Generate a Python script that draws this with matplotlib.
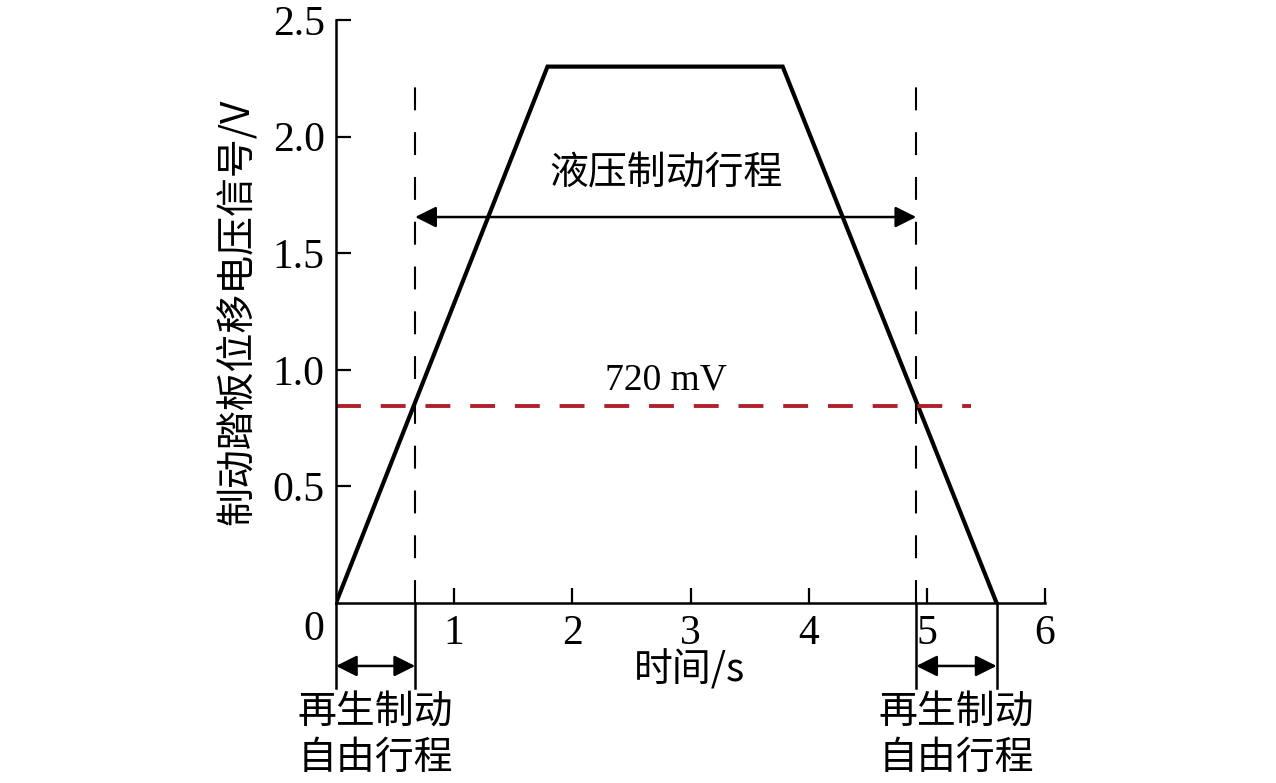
import matplotlib
matplotlib.use("Agg")
import matplotlib.pyplot as plt

plt.rcParams['font.family'] = ['Liberation Serif', 'Noto Sans CJK SC']

# pedal displacement signal (trapezoid)
t = [0, 1.79, 3.78, 5.59]
volt = [0, 2.3, 2.3, 0]

# boundaries of the free travel (regen only) zones
regen_start = [0, 4.91]
regen_end = [0.67, 5.59]
dash_top = 2.24
threshold = 0.845
threshold_end = 5.37

xticks = [1, 2, 3, 4, 5, 6]
yticks = [0.5, 1.0, 1.5, 2.0, 2.5]
ytick_labels = ['0.5', '1.0', '1.5', '2.0', '2.5']

fs = 30
fs_cjk = 28
cjk = ['Noto Sans CJK SC', 'Liberation Serif']

fig = plt.figure(figsize=(12.76, 7.83), dpi=100)
ax = fig.add_axes([0.2633, 0.2299, 0.5557, 0.7446])

ax.plot(t, volt, color='black', lw=3.0, solid_joinstyle='miter')

# vertical dashed markers
for xv in [regen_end[0], regen_start[1]]:
    ax.plot([xv, xv], [0, dash_top], color='black', lw=1.5, dashes=(11, 10.5))

# 720 mV threshold
ax.plot([0, threshold_end], [threshold, threshold], color='#b0202a', lw=2.8, dashes=(6.4, 5.1))
ax.text(2.79, threshold + 0.11, '720 mV', fontsize=27, ha='center', va='center')

# hydraulic braking stroke arrow
ax.annotate('', xy=(regen_start[1], 1.655), xytext=(regen_end[0], 1.655),
            arrowprops=dict(arrowstyle='<|-|>', color='black', lw=1.8,
                            mutation_scale=32, shrinkA=0, shrinkB=0))
ax.text(2.79, 1.84, '液压制动行程', fontsize=fs_cjk, family=cjk, ha='center', va='center')

# free travel arrows below the axis
for a, b in zip(regen_start, regen_end):
    for xv in (a, b):
        ax.plot([xv, xv], [0, -0.365], color='black', lw=1.8, clip_on=False)
    ax.annotate('', xy=(b, -0.27), xytext=(a, -0.27), annotation_clip=False,
                arrowprops=dict(arrowstyle='<|-|>', color='black', lw=1.8,
                                mutation_scale=32, shrinkA=0, shrinkB=0))
    ax.text((a + b) / 2, -0.47, '再生制动', fontsize=fs_cjk, family=cjk,
            ha='center', va='center', clip_on=False)
    ax.text((a + b) / 2, -0.665, '自由行程', fontsize=fs_cjk, family=cjk,
            ha='center', va='center', clip_on=False)

ax.set_xlim(0, 6)
ax.set_ylim(0, 2.5)
ax.set_xticks(xticks)
ax.set_xticklabels([str(x) for x in xticks])
ax.set_yticks(yticks)
ax.set_yticklabels(ytick_labels)
ax.text(-0.19, -0.115, '0', fontsize=fs, ha='center', va='center')

ax.spines['top'].set_visible(False)
ax.spines['right'].set_visible(False)
ax.spines['left'].set_linewidth(1.8)
ax.spines['bottom'].set_linewidth(1.8)
ax.tick_params(direction='in', length=11, width=1.6, labelsize=fs, pad=8)

ax.set_xlabel('时间/s', fontsize=fs_cjk, family=cjk)
ax.set_ylabel('制动踏板位移电压信号/V', fontsize=fs_cjk, family=cjk)
ax.xaxis.set_label_coords(0.499, -0.115)
ax.yaxis.set_label_coords(-0.1396, 0.5)
for lab in (ax.xaxis.label, ax.yaxis.label):
    lab.set_verticalalignment('center')

fig.savefig('out.png', dpi=100)
